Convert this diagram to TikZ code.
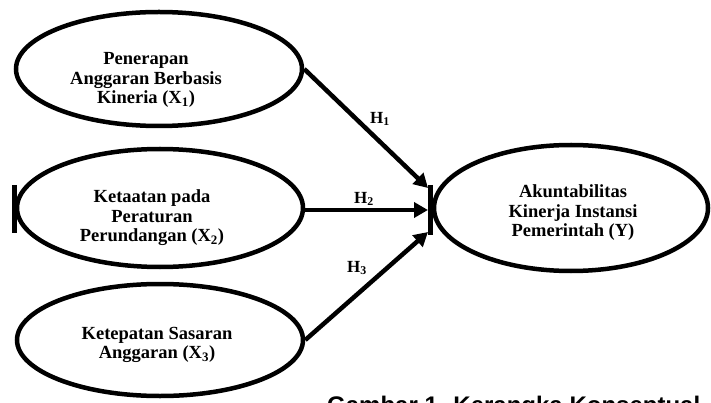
\documentclass[tikz,border=0pt]{standalone}
\usepackage{fontspec}
\setmainfont{Liberation Serif}
\newfontfamily\capfont{Liberation Sans}
\usetikzlibrary{shapes.geometric,arrows.meta}

\tikzset{
  latent/.style={ellipse, draw, line width=4.5pt, inner sep=0pt},
  vartext/.style={align=center, font=\bfseries\fontsize{18.5}{19.5}\selectfont},
  hlabel/.style={font=\bfseries\fontsize{17}{18}\selectfont},
  path/.style={line width=4.5pt, -{Triangle[length=14pt,width=15pt]}},
}

\begin{document}
\begin{tikzpicture}[x=1pt, y=-1pt]
  \useasboundingbox (0,0) rectangle (711,403);
  % constructs
  \node[latent, minimum width=286pt, minimum height=114pt] (x1) at (159,69) {};
  \node[latent, minimum width=286pt, minimum height=118pt] (x2) at (160,208) {};
  \node[latent, minimum width=286pt, minimum height=112pt] (x3) at (160,340) {};
  \node[latent, minimum width=274pt, minimum height=126pt] (y) at (571,208) {};
  \node[vartext] (tx1) at (146,80) {Penerapan\\Anggaran Berbasis\\Kineria (X\textsubscript{1})};
  \node[vartext] (tx2) at (152,218) {Ketaatan pada\\Peraturan\\Perundangan (X\textsubscript{2})};
  \node[vartext] (tx3) at (157,345) {Ketepatan Sasaran\\Anggaran (X\textsubscript{3})};
  \node[vartext] (ty) at (573,213) {Akuntabilitas\\Kinerja Instansi\\Pemerintah (Y)};
  % bars
  \draw[line width=5pt] (14.5,185) -- (14.5,233);
  \draw[line width=5pt] (430.5,185) -- (430.5,235);
  % paths
  \coordinate (t1) at (428,188);
  \coordinate (t2) at (428,210);
  \coordinate (t3) at (428,232);
  \draw[path] (x1.east) -- (t1);
  \draw[path] (x2.east |- t2) -- (t2);
  \draw[path] (x3.east) -- (t3);
  \node[hlabel] (h1) at (380,119) {H\textsubscript{1}};
  \node[hlabel] (h2) at (364,199) {H\textsubscript{2}};
  \node[hlabel] (h3) at (357,268) {H\textsubscript{3}};
  % caption (cut by page edge)
  \node[anchor=base west, inner sep=0pt, font=\capfont\bfseries\fontsize{24}{26}\selectfont] (cap) at (327,413)
    {Gambar 1. Kerangka Konseptual};
\end{tikzpicture}
\end{document}
